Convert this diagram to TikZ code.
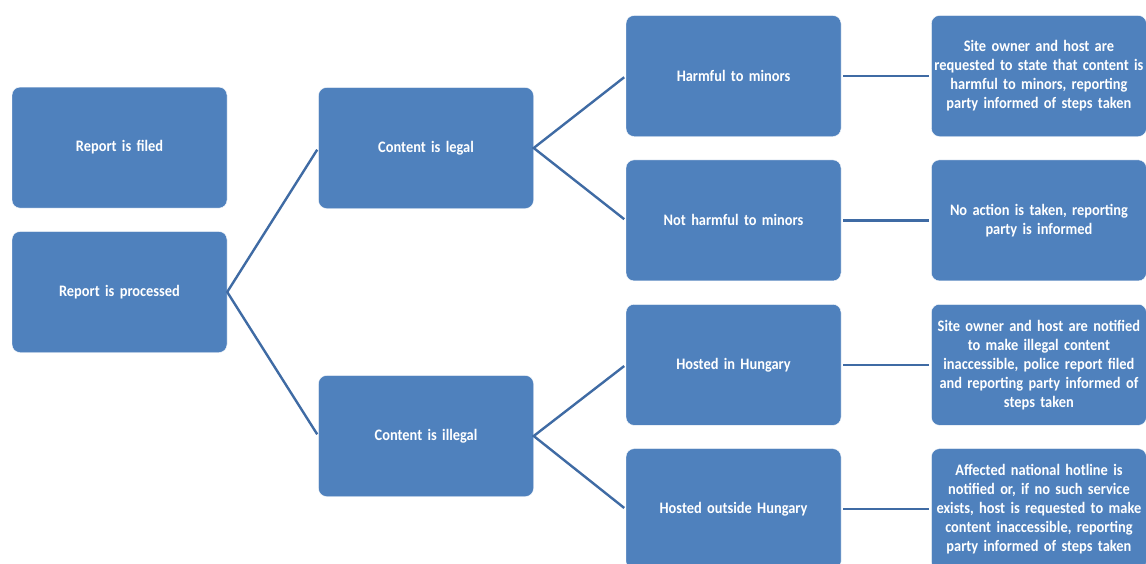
\documentclass[tikz,border=0pt]{standalone}
\usepackage{fontspec}
\setmainfont{Carlito}[FakeStretch=0.9]
\usetikzlibrary{positioning}
\definecolor{boxblue}{HTML}{4F81BD}
\definecolor{lineblue}{HTML}{3F6BA4}

\begin{document}
\begin{tikzpicture}[x=1pt, y=1pt,
node distance=23pt and 90pt,
stepbox/.style={rectangle, rounded corners=8pt, draw=white, thin, fill=boxblue,
text=white, font=\fontsize{16}{19}\selectfont\bfseries, align=center,
minimum width=215pt, minimum height=121pt, inner sep=1pt, text width=213pt},
link/.style={draw=lineblue, line width=2.4pt, shorten <=2pt, shorten >=2pt}
]
\useasboundingbox (0,0) rectangle (1146,-563);
\fill[white] (0,0) rectangle (1146,-563);
%Nodes
\node[stepbox]  (proc)   at (119.5,-292)        {Report is processed};
\node[stepbox]  (filed)  [above=of proc]        {Report is filed};
\node[stepbox]  (legal)  at (426,-148)          {Content is legal};
\node[stepbox]  (illegal) at (426,-436)         {Content is illegal};
\node[stepbox]  (harm)   at (733.5,-76)         {Harmful to minors};
\node[stepbox]  (noharm) [below=of harm]        {Not harmful to minors};
\node[stepbox]  (hun)    [below=of noharm]      {Hosted in Hungary};
\node[stepbox]  (abroad) [below=of hun]         {Hosted outside Hungary};
\node[stepbox]  (act1)   [right=of harm]   {Site owner and host are\\requested to state that content is\\harmful to minors, reporting\\party informed of steps taken};
\node[stepbox]  (act2)   [right=of noharm] {No action is taken, reporting\\party is informed};
\node[stepbox]  (act3)   [right=of hun]    {Site owner and host are notified\\to make illegal content\\inaccessible, police report filed\\and reporting party informed of\\steps taken};
\node[stepbox]  (act4)   [right=of abroad] {Affected national hotline is\\notified or, if no such service\\exists, host is requested to make\\content inaccessible, reporting\\party informed of steps taken};
%Lines
\draw[link] (legal.west) -- (proc.east) -- (illegal.west);
\draw[link] (harm.west) -- (legal.east) -- (noharm.west);
\draw[link] (hun.west) -- (illegal.east) -- (abroad.west);
\draw[link] (harm.east) -- (act1.west);
\draw[link] (noharm.east) -- (act2.west);
\draw[link] (hun.east) -- (act3.west);
\draw[link] (abroad.east) -- (act4.west);
\end{tikzpicture}
\end{document}
